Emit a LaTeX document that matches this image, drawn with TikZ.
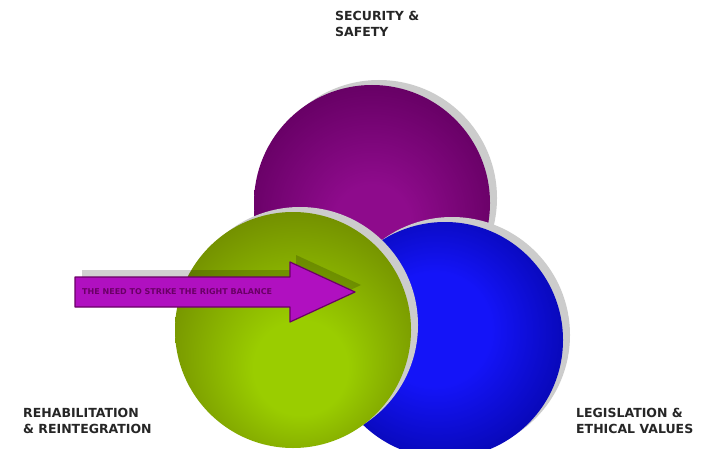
\documentclass[tikz,border=0pt]{standalone}
\usepackage{fontspec}
\setmainfont{DejaVu Sans}
\usepackage{tikz}
\usetikzlibrary{shadows}

\definecolor{pcen}{HTML}{8E0B8C}
\definecolor{pmid}{HTML}{660064}
\definecolor{pedge}{HTML}{3A0038}
\definecolor{gcen}{HTML}{9ACD00}
\definecolor{gmid}{HTML}{728E00}
\definecolor{gedge}{HTML}{4A5E00}
\definecolor{bcen}{HTML}{1414F8}
\definecolor{bmid}{HTML}{0606AC}
\definecolor{bedge}{HTML}{000066}
\definecolor{arrowfill}{HTML}{B010C0}
\definecolor{arrowedge}{HTML}{6A0066}

\pgfdeclareradialshading{purpleball}{\pgfpoint{0bp}{-5bp}}{color(0bp)=(pcen); color(8bp)=(pcen); color(28bp)=(pmid); color(40bp)=(pedge); color(50bp)=(pedge)}
\pgfdeclareradialshading{greenball}{\pgfpoint{2bp}{-10bp}}{color(0bp)=(gcen); color(10bp)=(gcen); color(30bp)=(gmid); color(42bp)=(gedge); color(50bp)=(gedge)}
\pgfdeclareradialshading{blueball}{\pgfpoint{-3bp}{3bp}}{color(0bp)=(bcen); color(12bp)=(bcen); color(30bp)=(bmid); color(42bp)=(bedge); color(50bp)=(bedge)}

\begin{document}
\begin{tikzpicture}[
    x=1pt, y=-1pt,
    ball/.style={circle, minimum size=236pt, inner sep=0pt, shading=#1,
                 drop shadow={shadow xshift=7pt, shadow yshift=5pt,
                              fill=black!20, opacity=1}},
    lbl/.style={font=\bfseries\fontsize{12.5}{16}\selectfont, text=black!85,
                align=left, anchor=north west, inner sep=0pt},
  ]
  \useasboundingbox[fill=white] (0,0) rectangle (714,449);

  \node[ball=purpleball] (security) at (372,203) {};
  \node[ball=blueball] (legislation) at (445,340) {};
  \node[ball=greenball] (rehab) at (293,330) {};

  % arrow over the green circle
  \fill[black, opacity=0.18] (82,270) -- (296,270) -- (296,255) -- (361,285)
    -- (296,315) -- (296,300) -- (82,300) -- cycle;
  \filldraw[fill=arrowfill, draw=arrowedge, line width=1.2pt, line join=round]
    (75,277) -- (290,277) -- (290,262) -- (355,292) -- (290,322) -- (290,307)
    -- (75,307) -- cycle;
  \node[font=\bfseries\fontsize{8}{9}\selectfont, text=arrowedge, anchor=west,
        inner sep=0pt] (balance) at (82,292) {THE NEED TO STRIKE THE RIGHT BALANCE};

  \node[lbl] (safetylbl) at (335,11) {SECURITY \&\\SAFETY};
  \node[lbl] (rehablbl) at (23,408) {REHABILITATION\\\& REINTEGRATION};
  \node[lbl] (legallbl) at (576,408) {LEGISLATION \&\\ETHICAL VALUES};
\end{tikzpicture}
\end{document}
